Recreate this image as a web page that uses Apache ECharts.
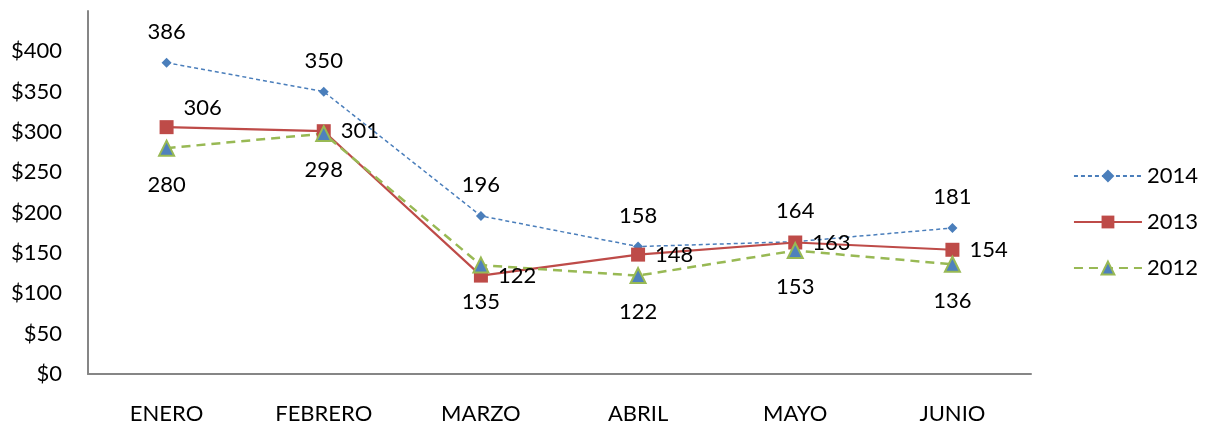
<!DOCTYPE html>
<html>
<head>
<meta charset="utf-8">
<script src="https://cdn.jsdelivr.net/npm/echarts@6/dist/echarts.min.js"></script>
<style>html,body{margin:0;padding:0;background:#fff;}#c{width:1207px;height:426px;}</style>
</head>
<body>
<div id="c"></div>
<script>
var categories = ['ENERO', 'FEBRERO', 'MARZO', 'ABRIL', 'MAYO', 'JUNIO'];
var s2014 = [386, 350, 196, 158, 164, 181];
var s2013 = [306, 301, 122, 148, 163, 154];
var s2012 = [280, 298, 135, 122, 153, 136];
var yTicks = [0, 50, 100, 150, 200, 250, 300, 350, 400];

var FONT = 'Lato, "Open Sans", sans-serif';
var FS = 22;
var chart = echarts.init(document.getElementById('c'), null, {renderer: 'canvas'});

// 2013: first label sits above-right of its marker in the reference
var d2013 = s2013.map(function (v, i) {
  return i === 0 ? {value: v, label: {offset: [0, -19]}} : v;
});

chart.setOption({
  animation: false,
  backgroundColor: '#fff',
  textStyle: {fontFamily: FONT},
  grid: {left: 88, right: 176, top: 11, bottom: 52, containLabel: false},
  legend: {
    orient: 'vertical', right: 4, top: 160, itemGap: 24, itemWidth: 68, itemHeight: 16,
    textStyle: {fontSize: FS, color: '#000', fontFamily: FONT},
    data: ['2014', '2013', '2012']
  },
  xAxis: {
    type: 'category', data: categories, boundaryGap: true,
    axisLine: {lineStyle: {color: '#868686', width: 2}},
    axisTick: {show: false},
    axisLabel: {fontSize: FS, color: '#000', margin: 29, fontFamily: FONT}
  },
  yAxis: {
    type: 'value', min: 0, max: 450, interval: 50,
    axisLine: {show: true, lineStyle: {color: '#868686', width: 2}},
    axisTick: {show: false},
    splitLine: {show: false},
    axisLabel: {
      fontSize: FS, color: '#000', margin: 26, fontFamily: FONT,
      formatter: function (v) { return yTicks.indexOf(v) >= 0 ? '$' + v : ''; }
    }
  },
  series: [
    {
      name: '2014', type: 'line', data: s2014,
      symbol: 'diamond', symbolSize: 10,
      itemStyle: {color: '#4A7EBB'},
      lineStyle: {color: '#4A7EBB', width: 1.5, type: [4, 3]},
      label: {show: true, position: 'top', distance: 15, fontSize: FS, color: '#000', fontFamily: FONT}
    },
    {
      name: '2013', type: 'line', data: d2013,
      symbol: 'rect', symbolSize: 14,
      itemStyle: {color: '#BE4B48'},
      lineStyle: {color: '#BE4B48', width: 2.2},
      label: {show: true, position: 'right', distance: 10, fontSize: FS, color: '#000', fontFamily: FONT}
    },
    {
      name: '2012', type: 'line', data: s2012,
      symbol: 'triangle', symbolSize: 15,
      itemStyle: {color: '#4F81BD', borderColor: '#98B954', borderWidth: 2},
      lineStyle: {color: '#98B954', width: 2.5, type: [9, 6]},
      label: {show: true, position: 'bottom', distance: 17, fontSize: FS, color: '#000', fontFamily: FONT}
    }
  ]
});
</script>
</body>
</html>
